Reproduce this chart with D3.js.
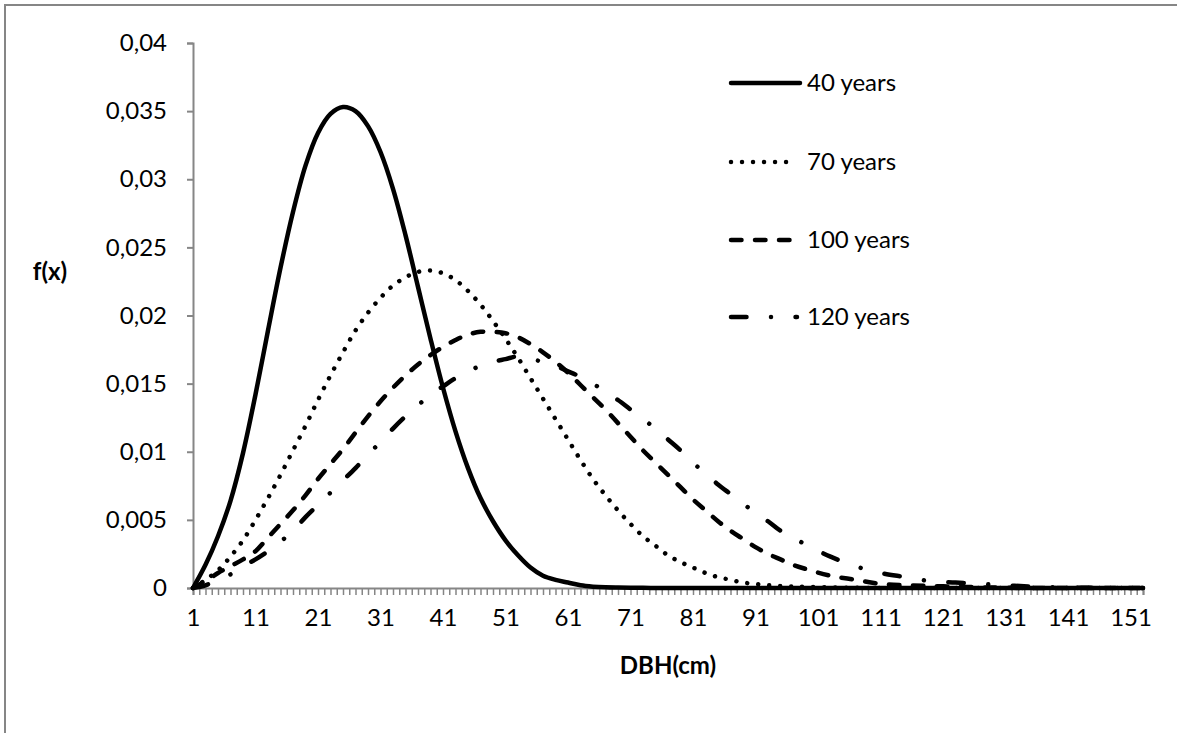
<!DOCTYPE html>
<html>
<head>
<meta charset="utf-8">
<script src="https://cdn.jsdelivr.net/npm/d3@7"></script>
<style>
  html, body { margin: 0; padding: 0; background: #fff; overflow: hidden; }
  svg { display: block; font-family: Lato, "Open Sans", sans-serif; }
</style>
</head>
<body>
<svg id="chart" width="1177" height="733"></svg>
<script>
// ---- data ----
const categories = d3.range(1, 154);           // DBH classes 1..153
const xLabels = [1, 11, 21, 31, 41, 51, 61, 71, 81, 91, 101, 111, 121, 131, 141, 151];
const yTicks = [0, 0.005, 0.01, 0.015, 0.02, 0.025, 0.03, 0.035, 0.04];
const seriesNames = ["40 years", "70 years", "100 years", "120 years"];

const xs = [1,3,5,7,9,11,13,15,17,19,21,23,25,27,29,31,33,35,37,39,41,43,45,47,49,
            51,53,55,57,59,61,63,65,67,69,71,73,75,77,79,81,83,85,87,89,91,93,95,97,99,
            103,107,111,115,119,123,127,131,135,139,143,147,151,153];

const y40 = [0,0.0017,0.0038,0.0064,0.0099,0.0142,0.0189,0.0235,0.0276,0.0310,0.0334,0.0348,0.0353,0.0350,0.0339,0.0320,0.0293,0.0259,0.0221,0.0183,0.0147,0.0115,0.0088,0.0066,0.0049,
             0.0035,0.0024,0.0015,0.0009,0.0006,0.0004,0.0002,0.0001,0.00005,0.00003,0.00002,0.00001,0,0,0,0,0,0,0,0,0,0,0,0,0,
             0,0,0,0,0,0,0,0,0,0,0,0,0,0];

const y70 = [0,0.0006,0.0013,0.0023,0.0035,0.0050,0.0066,0.0083,0.0101,0.0119,0.0138,0.0156,0.0173,0.0189,0.0202,0.0213,0.0222,0.0228,0.0232,0.0233,0.0231,0.0226,0.0218,0.0208,0.0196,
             0.0183,0.0169,0.0154,0.0139,0.0124,0.0109,0.0094,0.0080,0.0068,0.0057,0.0047,0.0038,0.0031,0.0024,0.0019,0.0015,0.0011,0.0008,0.0006,0.0004,0.0003,0.0002,0.00015,0.0001,0.00008,
             0.00004,0.00002,0,0,0,0,0,0,0,0,0,0,0,0];

const y100 = [0,0.0005,0.0011,0.0016,0.0021,0.0027,0.0037,0.0047,0.0057,0.0068,0.0080,0.0091,0.0102,0.0114,0.0126,0.0137,0.0147,0.0156,0.0164,0.0171,0.0177,0.0182,0.0186,0.0188,0.0188,
              0.0187,0.0184,0.0179,0.0173,0.0166,0.0158,0.0149,0.0140,0.0131,0.0121,0.0111,0.0101,0.0092,0.0083,0.0074,0.0065,0.0057,0.0049,0.0042,0.0036,0.0030,0.0025,0.0021,0.0017,0.0014,
              0.0009,0.0006,0.0003,0.0002,0.00015,0.0001,0.00005,0.00002,0,0,0,0,0,0];

const y120 = [0,0.0002,0.0006,0.0010,0.0016,0.0021,0.0027,0.0034,0.0042,0.0052,0.0061,0.0070,0.0079,0.0088,0.0098,0.0107,0.0117,0.0126,0.0134,0.0142,0.0148,0.0154,0.0159,0.0163,0.0166,
              0.0168,0.0170,0.0168,0.0166,0.0163,0.0159,0.0155,0.0150,0.0144,0.0138,0.0131,0.0124,0.0117,0.0109,0.0101,0.0092,0.0084,0.0076,0.0069,0.0062,0.0055,0.0049,0.0042,0.0037,0.0032,
              0.0023,0.0016,0.0011,0.0008,0.0005,0.0004,0.0003,0.0002,0.0001,0.00005,0.00002,0,0,0];

// ---- layout ----
const svg = d3.select("#chart");
const plot = { left: 193, right: 1143, top: 43, bottom: 588 };
const axisColor = "#868686";

// outer chart frame
svg.append("rect")
  .attr("x", 5).attr("y", 5).attr("width", 1300).attr("height", 900)
  .attr("fill", "none").attr("stroke", axisColor).attr("stroke-width", 2);

const x = d3.scalePoint().domain(categories).range([plot.left, plot.right]);
const y = d3.scaleLinear().domain([0, 0.04]).range([plot.bottom, plot.top]);

const fmt = v => (v === 0 ? "0" : String(+v.toFixed(3)).replace(".", ","));

// y axis
const yAxis = svg.append("g")
  .attr("transform", `translate(${plot.left},0)`)
  .call(d3.axisLeft(y).tickValues(yTicks).tickSize(6).tickPadding(20).tickFormat(fmt));
yAxis.select(".domain").attr("stroke", axisColor).attr("stroke-width", 2);
yAxis.selectAll(".tick line").attr("stroke", axisColor).attr("stroke-width", 2);
yAxis.selectAll(".tick text").attr("font-size", 24).attr("fill", "#000")
  .attr("font-family", "Lato, 'Open Sans', sans-serif");

// x axis
const xAxis = svg.append("g")
  .attr("transform", `translate(0,${plot.bottom})`)
  .call(d3.axisBottom(x).tickValues(categories).tickSize(7).tickPadding(14)
        .tickFormat(d => xLabels.includes(d) ? String(d) : ""));
xAxis.select(".domain").attr("stroke", axisColor).attr("stroke-width", 2);
xAxis.selectAll(".tick line").attr("stroke", axisColor).attr("stroke-width", 1.5);
xAxis.selectAll(".tick text").attr("font-size", 24).attr("fill", "#000")
  .attr("font-family", "Lato, 'Open Sans', sans-serif");

// axis titles
svg.append("text").attr("x", 668).attr("y", 674).attr("text-anchor", "middle")
  .attr("font-size", 24).attr("font-weight", "bold").text("DBH(cm)");
svg.append("text").attr("x", 50).attr("y", 280).attr("text-anchor", "middle")
  .attr("font-size", 24).attr("font-weight", "bold").text("f(x)");

// series styles
const styles = [
  { dash: null },
  { dash: "0.01 11" },
  { dash: "10.5 13.5" },
  { dash: "15.5 24.5 0.01 24.5" }
];
const seriesData = [y40, y70, y100, y120];

const line = d3.line()
  .x(d => x(d[0]))
  .y(d => Math.min(y(d[1]), plot.bottom))
  .curve(d3.curveCatmullRom.alpha(0.5));

seriesData.forEach((vals, i) => {
  const pts = xs.map((c, j) => [c, vals[j]]);
  const p = svg.append("path")
    .datum(pts)
    .attr("d", line)
    .attr("fill", "none")
    .attr("stroke", "#000")
    .attr("stroke-width", 4.5)
    .attr("stroke-linecap", "round")
    .attr("stroke-linejoin", "round");
  if (styles[i].dash) p.attr("stroke-dasharray", styles[i].dash);
});

// legend
const legendY = [83, 162, 240, 317];
const legendX0 = 731, legendX1 = 797;
seriesNames.forEach((name, i) => {
  const g = svg.append("g");
  const l = g.append("line")
    .attr("x1", legendX0).attr("x2", i === 0 ? 800 : legendX1)
    .attr("y1", legendY[i]).attr("y2", legendY[i])
    .attr("stroke", "#000").attr("stroke-width", 4.5)
    .attr("stroke-linecap", "round");
  if (styles[i].dash) l.attr("stroke-dasharray", styles[i].dash);
  g.append("text").attr("x", 807).attr("y", legendY[i]).attr("dy", "0.35em")
    .attr("font-size", 24).text(name);
});
</script>
</body>
</html>
